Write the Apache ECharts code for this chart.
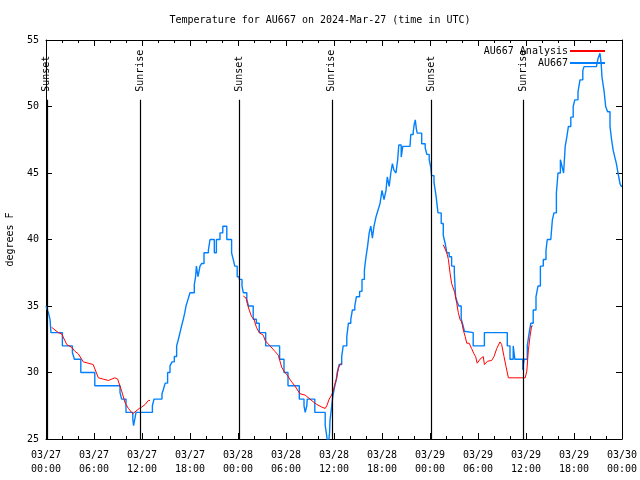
<!DOCTYPE html>
<html>
<head>
<meta charset="utf-8">
<script src="https://cdn.jsdelivr.net/npm/echarts@6.0.0/dist/echarts.min.js"></script>
<style>html,body{margin:0;padding:0;background:#fff}#chart{width:640px;height:480px}</style>
</head>
<body>
<div id="chart"></div>
<script>
// Hours since 2024-03-27 00:00 UTC
const blueHours = [0.0,0.12,0.3,0.5,0.62,2.05,3.3,3.55,4.35,6.1,9.25,9.45,10.0,10.85,10.95,11.1,11.25,13.3,13.5,
  14.5,14.66,14.9,15.2,15.5,15.75,16.04,16.33,16.55,16.75,16.95,17.16,17.35,17.5,17.75,18.0,18.54,18.7,18.8,19.0,19.25,19.46,19.75,20.3,20.5,21.04,21.3,21.75,22.1,22.6,23.2,23.4,23.6,23.9,
  24.16,24.5,24.66,25.1,25.3,25.9,26.3,26.66,27.46,29.2,29.75,30.25,31.66,32.25,32.4,32.6,32.65,33.6,34.9,35.1,35.25,35.45,35.5,35.7,35.85,36.1,36.3,36.4,36.65,36.96,37.15,37.6,37.8,38.1,38.3,38.6,38.8,39.2,39.5,39.8,40.0,40.2,40.4,40.6,40.8,41.0,41.25,41.5,41.75,42.0,42.25,42.5,42.66,42.9,43.1,43.3,43.5,43.75,43.96,44.1,44.4,44.6,45.5,45.6,45.9,46.04,46.16,46.3,46.4,46.96,47.4,47.6,47.9,
  48.1,48.2,48.5,48.75,49.0,49.4,49.66,49.9,50.1,50.4,50.7,51.04,51.2,51.4,51.6,51.9,52.1,52.3,52.5,53.4,54.8,57.66,58.0,58.4,58.6,59.6,59.75,60.16,60.4,60.6,60.9,61.25,61.5,61.8,62.16,62.5,62.66,63.1,63.3,63.5,63.8,64.0,64.3,64.5,64.7,64.9,65.1,65.3,65.6,65.9,66.1,66.5,66.75,67.1,67.25,68.8,69.0,69.25,69.4,69.5,69.75,69.96,70.2,70.5,70.7,70.9,71.1,71.3,71.5,71.75,71.9,72];
const blueTemps = [35,34.8,34.5,34,33,32,31.5,31,30,29,28.5,28,27,26.5,26,26.5,27,27.5,28,
  28.4,28.7,29.2,30,30.5,30.8,31.2,32,32.5,33,33.5,34,34.5,35,35.5,36,36.6,37.2,38,37.2,38,38.2,39,39.2,40,39,40,40.5,41,40,39,38.5,38,37.2,
  37,36.5,36,35.5,35,34,33.7,33,32,31,30,29,28,27.5,27,27.5,28,27,26,25.2,24.3,25.5,26.4,27.4,28.2,29,29.5,30,30.6,31.2,32,32.7,33.7,34,34.7,35,35.7,36.1,37,37.7,38.7,39.5,40.5,41,40.1,41,41.7,42.2,42.7,43.7,43,43.7,44.7,44,45,45.7,45.2,45,46,47.1,46.2,47,47.1,47.9,48.1,48.7,49,48.3,48,47.2,46.9,46.4,46,
  45.4,44.8,44.3,43.3,42,41.2,40.3,39.7,39,38.7,38,37.5,35.7,35.3,35,34,33.6,33.1,33,32,33,32,31,32,31,30.2,31,32,33,33.7,34.7,35.7,36.5,38,38.5,39.2,40,40,41.5,42,43.5,45,46,45.5,45,47,47.7,48.5,49.2,50,50.5,51.1,52,52.7,53,53,53.6,54,53.2,52.2,51.2,50,49.6,48.5,47.5,46.7,46.2,45.7,45,44.2,44,44];

const redHours = [0.7,1.54,1.96,2.6,3.2,3.6,4.04,4.66,5.9,6.54,7.16,7.8,8.6,8.96,9.46,9.9,10.3,10.84,11.04,11.66,11.96,12.4,12.8,13.0,
  18.0,
  24.66,25.0,25.16,25.4,25.7,26.0,26.3,26.66,27.16,27.4,28.0,28.6,29.04,29.46,29.75,30.16,30.7,31.1,31.75,32.4,33.0,33.4,33.84,34.46,34.9,35.1,35.4,35.7,35.9,36.1,36.34,36.54,36.75,36.96,
  42.0,
  49.66,50.1,50.3,50.5,50.7,50.9,51.1,51.34,51.54,51.75,51.96,52.16,52.4,52.6,52.9,53.2,53.5,53.7,53.9,54.25,54.66,54.8,55.2,55.7,56.0,56.34,56.75,56.96,57.25,57.5,57.8,57.9,58.4,59.25,59.9,60.1,60.3,60.5,60.7,60.84];
const redTemps = [33.4,33,32.9,32.1,31.9,31.6,31.4,30.8,30.6,29.6,29.5,29.4,29.6,29.5,28.6,27.7,27.3,26.9,27.0,27.3,27.4,27.6,27.9,27.9,
  '-',
  35.75,35.6,35.2,34.7,34.2,34,33.4,33,32.8,32.4,32,31.6,31.3,30.4,30.1,29.8,29.3,29,28.4,28.3,28,27.8,27.6,27.4,27.3,27.5,28,28.3,28.6,29.1,29.6,30.3,30.6,30.7,
  '-',
  39.6,39,38.5,37.5,36.7,36.7,36,35.2,34.5,34,33.8,33.2,32.7,32.2,32.2,31.8,31.4,31.2,30.7,31,31.2,30.6,30.85,30.9,31.2,31.8,32.3,32.1,31.2,30.45,29.6,29.5,29.6,29.6,29.6,30.1,31.7,32.7,33.5,33.5];

const eventHours = [0.1, 11.75, 24.12, 35.72, 48.13, 59.68];
const eventLabels = ['Sunset','Sunrise','Sunset','Sunrise','Sunset','Sunrise'];
const eventLineTop = 50.5;
const eventLabelBase = 51.1;

const xTickLabels = ['03/27\n00:00','03/27\n06:00','03/27\n12:00','03/27\n18:00','03/28\n00:00','03/28\n06:00','03/28\n12:00','03/28\n18:00','03/29\n00:00','03/29\n06:00','03/29\n12:00','03/29\n18:00','03/30\n00:00'];

const FONT = 'DejaVu Sans Mono';
const chart = echarts.init(document.getElementById('chart'));

const xCommon = {
  type: 'value', min: 0, max: 72, interval: 6,
  axisLine: {show: true, onZero: false, lineStyle: {color: '#000', width: 1}},
  axisTick: {show: true, inside: true, length: 6, lineStyle: {color: '#000'}},
  minorTick: {show: true, splitNumber: 3, length: 3, lineStyle: {color: '#000'}},
  splitLine: {show: false}, minorSplitLine: {show: false}
};
const yCommon = {
  type: 'value', min: 25, max: 55, interval: 5,
  axisLine: {show: true, onZero: false, lineStyle: {color: '#000', width: 1}},
  axisTick: {show: true, inside: true, length: 6, lineStyle: {color: '#000'}},
  splitLine: {show: false}
};

chart.setOption({
  animation: false,
  backgroundColor: '#fff',
  textStyle: {fontFamily: FONT},
  title: {
    text: 'Temperature for AU667 on 2024-Mar-27 (time in UTC)',
    left: 'center', top: 10,
    textStyle: {fontFamily: FONT, fontSize: 10, fontWeight: 'normal', color: '#000'}
  },
  legend: {
    data: ['AU667 Analysis', 'AU667'],
    orient: 'vertical', right: 30, top: 41, align: 'right',
    itemWidth: 35, itemHeight: 2, itemGap: 2, icon: 'rect',
    textStyle: {fontFamily: FONT, fontSize: 10, color: '#000', padding: [0, -3, 0, 0]}
  },
  grid: {left: 46, right: 18, top: 40, bottom: 41, containLabel: false, outerBoundsMode: 'none'},
  xAxis: [
    Object.assign({}, xCommon, {
      position: 'bottom',
      axisLabel: {
        show: true, margin: 9, color: '#000', fontFamily: FONT, fontSize: 10, lineHeight: 14,
        formatter: v => xTickLabels[Math.round(v / 6)]
      }
    }),
    Object.assign({}, xCommon, {position: 'top', axisLabel: {show: false}})
  ],
  yAxis: [
    Object.assign({}, yCommon, {
      position: 'left',
      name: 'degrees F', nameLocation: 'middle', nameGap: 31,
      nameTextStyle: {fontFamily: FONT, fontSize: 10, color: '#000'},
      axisLabel: {show: true, margin: 7, color: '#000', fontFamily: FONT, fontSize: 10}
    }),
    Object.assign({}, yCommon, {position: 'right', axisLabel: {show: false}})
  ],
  series: [
    {
      name: 'AU667 Analysis', type: 'line', xAxisIndex: 0, yAxisIndex: 0,
      data: redHours.map((h, i) => [h, redTemps[i]]),
      symbol: 'none', connectNulls: false, z: 4,
      lineStyle: {color: '#ff0000', width: 1}, itemStyle: {color: '#ff0000'}
    },
    {
      name: 'AU667', type: 'line', xAxisIndex: 0, yAxisIndex: 0,
      data: blueHours.map((h, i) => [h, blueTemps[i]]),
      step: 'end', symbol: 'none', z: 3, clip: true,
      lineStyle: {color: '#0080ff', width: 1.4}, itemStyle: {color: '#0080ff'},
      markLine: {
        silent: true, symbol: ['none', 'none'], animation: false,
        lineStyle: {color: '#000', width: 1.2, type: 'solid'},
        label: {show: false},
        data: eventHours.map(t => [{coord: [t, 25]}, {coord: [t, eventLineTop]}])
      }
    },
    {
      name: 'events', type: 'custom', xAxisIndex: 0, yAxisIndex: 0,
      data: eventHours.map(t => [t, eventLabelBase]),
      silent: true, z: 5, clip: false,
      renderItem: (params, api) => {
        const p = api.coord([api.value(0), api.value(1)]);
        return {
          type: 'text', x: p[0], y: p[1], rotation: Math.PI / 2,
          style: {
            text: eventLabels[params.dataIndex], fill: '#000',
            fontFamily: FONT, fontSize: 10, align: 'left', verticalAlign: 'middle'
          }
        };
      }
    }
  ]
});
</script>
</body>
</html>
